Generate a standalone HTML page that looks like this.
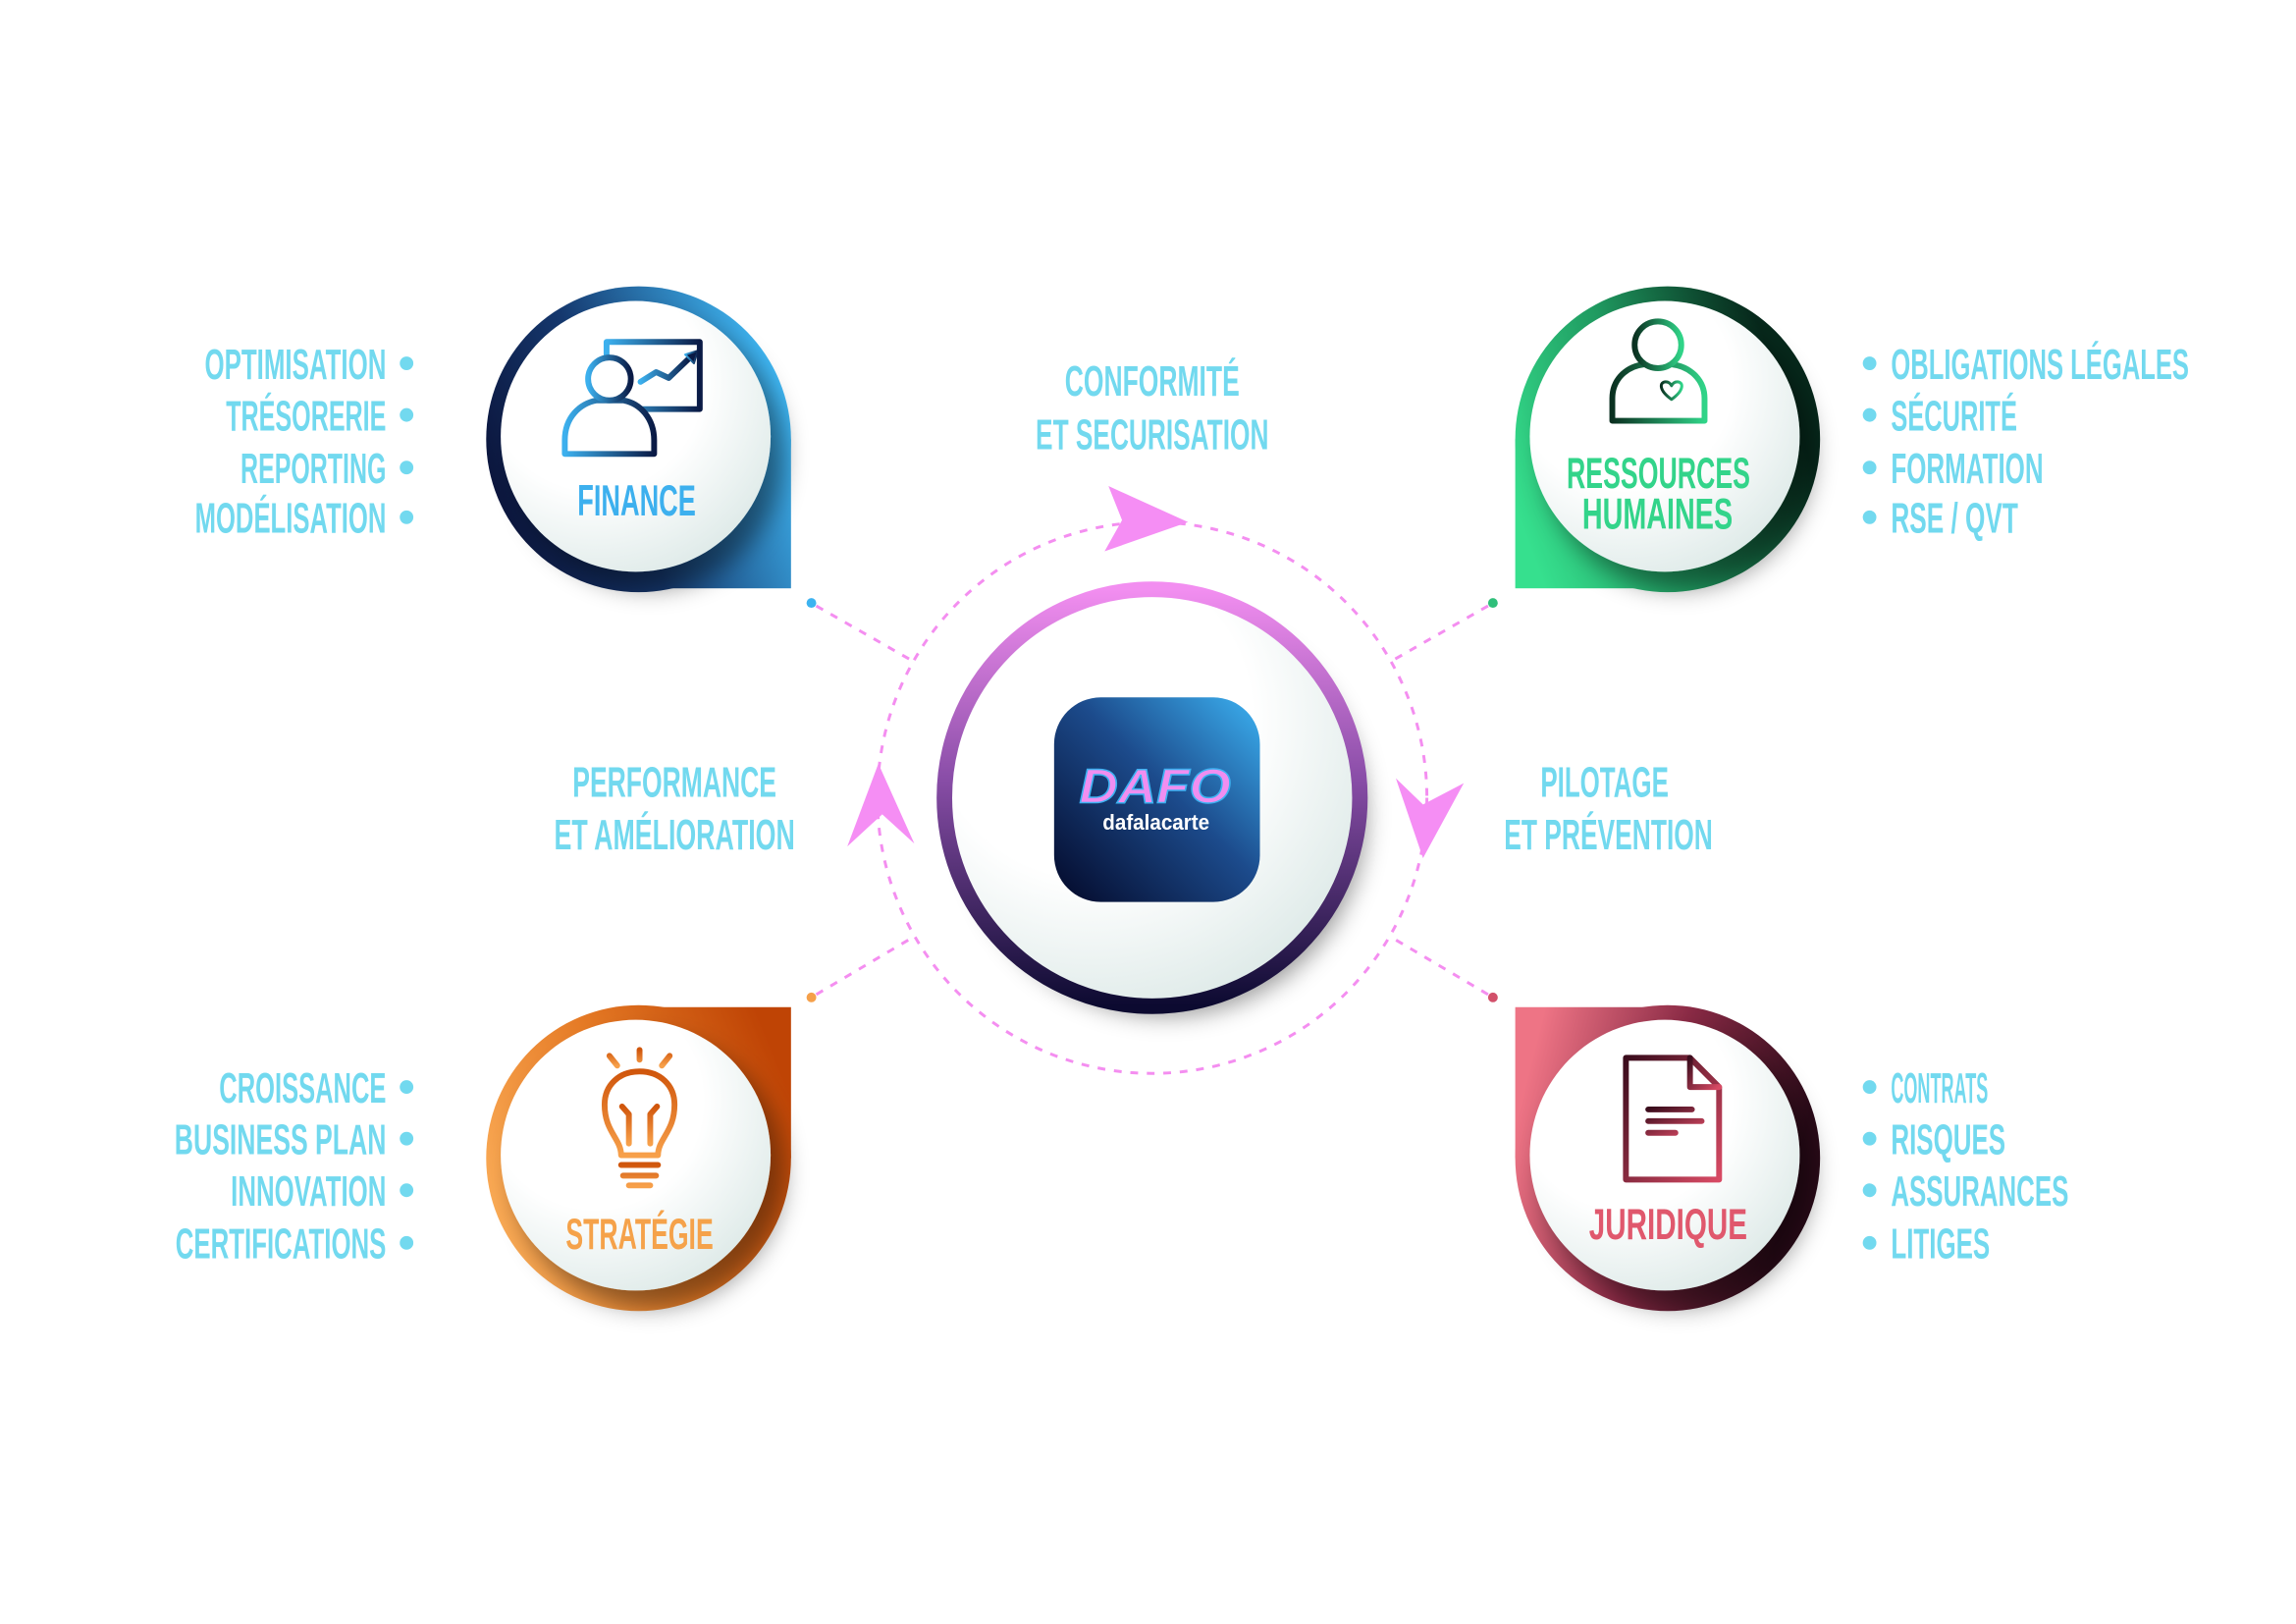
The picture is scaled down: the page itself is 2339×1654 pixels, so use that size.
<!DOCTYPE html>
<html><head><meta charset="utf-8"><style>
html,body{margin:0;padding:0;background:#fff;}
svg{display:block;}
text{font-family:"Liberation Sans Narrow","Liberation Sans",sans-serif;font-weight:bold;}
</style></head><body>
<svg width="2339" height="1654" viewBox="0 0 2339 1654" xmlns="http://www.w3.org/2000/svg">
<defs>
<linearGradient id="gF" gradientUnits="userSpaceOnUse" x1="493" y1="540" x2="807" y2="420"><stop offset="0" stop-color="#0a1035"/><stop offset="0.45" stop-color="#15386e"/><stop offset="1" stop-color="#3fb6f2"/></linearGradient>
<linearGradient id="gH" gradientUnits="userSpaceOnUse" x1="1553" y1="520" x2="1867" y2="400"><stop offset="0" stop-color="#36e08e"/><stop offset="0.45" stop-color="#1f9a60"/><stop offset="0.9" stop-color="#06281b"/></linearGradient>
<linearGradient id="gS" gradientUnits="userSpaceOnUse" x1="493" y1="1250" x2="807" y2="1120"><stop offset="0" stop-color="#fbad58"/><stop offset="0.5" stop-color="#e57a25"/><stop offset="1" stop-color="#bf4405"/></linearGradient>
<linearGradient id="gJ" gradientUnits="userSpaceOnUse" x1="1553" y1="1150" x2="1867" y2="1230"><stop offset="0" stop-color="#ee7485"/><stop offset="0.45" stop-color="#8a2a45"/><stop offset="0.9" stop-color="#2a0a18"/></linearGradient>
<linearGradient id="gC" x1="0" y1="0" x2="0" y2="1"><stop offset="0" stop-color="#f28ef0"/><stop offset="0.45" stop-color="#8a4ea8"/><stop offset="1" stop-color="#0c0a30"/></linearGradient>
<linearGradient id="gL" x1="0" y1="1" x2="1" y2="0"><stop offset="0" stop-color="#030828"/><stop offset="0.55" stop-color="#1c4b8c"/><stop offset="1" stop-color="#3cb2f2"/></linearGradient>
<radialGradient id="gW" cx="0.35" cy="0.3" r="0.8"><stop offset="0.5" stop-color="#ffffff"/><stop offset="1" stop-color="#dbe8e6"/></radialGradient>
<filter id="sh" x="-30%" y="-30%" width="170%" height="170%"><feDropShadow dx="14" dy="18" stdDeviation="12" flood-color="#000" flood-opacity="0.4"/></filter>
<linearGradient id="iF" x1="0" y1="0" x2="1" y2="0"><stop offset="0" stop-color="#3cb0ee"/><stop offset="1" stop-color="#0a1a45"/></linearGradient>
<linearGradient id="iH" x1="0" y1="0" x2="1" y2="0"><stop offset="0" stop-color="#0a3020"/><stop offset="1" stop-color="#30d488"/></linearGradient>
<linearGradient id="iS" x1="0" y1="0" x2="0" y2="1"><stop offset="0" stop-color="#d0560c"/><stop offset="1" stop-color="#f7a04a"/></linearGradient>
<linearGradient id="iJ" x1="0" y1="0" x2="1" y2="1"><stop offset="0" stop-color="#3a0c1c"/><stop offset="1" stop-color="#d84a64"/></linearGradient>
</defs>
<g transform="translate(700,500) scale(0.989,0.992) translate(-700,-500)">
<g stroke="#f48ef0" stroke-width="3" stroke-dasharray="8 9" fill="none">
<circle cx="1179" cy="815" r="283"/>
<line x1="833" y1="618" x2="933" y2="675"/>
<line x1="1525" y1="618" x2="1425" y2="675"/>
<line x1="833" y1="1017" x2="933" y2="958"/>
<line x1="1525" y1="1017" x2="1425" y2="958"/>
</g>
<circle cx="828" cy="615" r="5" fill="#3db3f0"/>
<circle cx="1530" cy="615" r="5" fill="#2fbf7a"/>
<circle cx="828" cy="1020" r="5" fill="#f5a04a"/>
<circle cx="1530" cy="1020" r="5" fill="#d2506a"/>

<g fill="#f58ef4">
<polygon points="1216,532 1134,495 1148,530 1130,562"/>
<polygon points="1458,877 1430,795 1458,822 1500,800"/>
<polygon points="897,780 865,865 901,832 934,862"/>
</g>

<circle cx="1179" cy="815" r="206" fill="url(#gW)" filter="url(#sh)"/>
<circle cx="1179" cy="815" r="214" fill="none" stroke="url(#gC)" stroke-width="16"/>
<rect x="1078" y="712" width="212" height="210" rx="48" fill="url(#gL)"/>
<text x="1104" y="820" font-size="50" font-style="italic" fill="#f08ef0" stroke="#3cb2f2" stroke-width="1.5" textLength="156" lengthAdjust="spacingAndGlyphs">DAFO</text>
<text x="1128" y="848" font-size="22" fill="#ffffff" textLength="110" lengthAdjust="spacingAndGlyphs">dafalacarte</text>

<g fill="url(#gF)"><circle cx="650" cy="447" r="157"/><rect x="650" y="447" width="157" height="153"/></g>
<circle cx="647" cy="444" r="139" fill="url(#gW)" filter="url(#sh)"/>
<g fill="#fff" stroke="url(#iF)" stroke-width="6" stroke-linejoin="round" stroke-linecap="round">
<rect x="617" y="347" width="96" height="69" fill="none"/>
<polyline points="652,388 668,378 681,384 703,363" fill="none"/>
<polygon points="698,360 711,356 707,369" fill="#0a1a45" stroke-width="2"/>
<path d="M574,462 L574,448 C574,424 590,410 607,407 L634,407 C652,410 666,426 666,448 L666,462 Z"/>
<circle cx="620" cy="385" r="22"/>
</g>
<text x="587" y="525" font-size="45" fill="#3db0ee" textLength="122" lengthAdjust="spacingAndGlyphs">FINANCE</text>

<g fill="url(#gH)"><circle cx="1710" cy="447" r="157"/><rect x="1553" y="447" width="157" height="153"/></g>
<circle cx="1707" cy="444" r="139" fill="url(#gW)" filter="url(#sh)"/>
<g fill="#fff" stroke="url(#iH)" stroke-width="6" stroke-linejoin="round">
<path d="M1653,428 L1653,405 C1653,385 1668,372 1686,370 L1714,370 C1732,372 1748,385 1748,405 L1748,428 Z"/>
<circle cx="1700" cy="350" r="24"/>
<path d="M1714,406 C1700,396 1702,388 1708,388 C1711,388 1713,390 1714,392 C1715,390 1717,388 1720,388 C1726,388 1728,396 1714,406 Z" stroke-width="3"/>
</g>
<text x="1606" y="497" font-size="45" fill="#33d48a" textLength="189" lengthAdjust="spacingAndGlyphs">RESSOURCES</text>
<text x="1622" y="539" font-size="45" fill="#33d48a" textLength="155" lengthAdjust="spacingAndGlyphs">HUMAINES</text>

<g fill="url(#gS)"><circle cx="650" cy="1185" r="157"/><rect x="650" y="1030" width="157" height="155"/></g>
<circle cx="647" cy="1182" r="139" fill="url(#gW)" filter="url(#sh)"/>
<g fill="none" stroke="url(#iS)" stroke-width="6" stroke-linecap="round" stroke-linejoin="round">
<path d="M632,1182 C632,1165 615,1158 615,1130 C615,1110 630,1096 651,1096 C672,1096 687,1110 687,1130 C687,1158 670,1165 670,1182 Z"/>
<path d="M640,1170 L640,1140 L633,1132 M662,1170 L662,1140 L669,1132"/>
<path d="M632,1192 L670,1192 M634,1203 L668,1203 M640,1213 L662,1213"/>
<path d="M651,1074 L651,1084 M620,1080 L628,1090 M682,1080 L674,1090"/>
</g>
<text x="575" y="1278" font-size="45" fill="#f5a24a" textLength="152" lengthAdjust="spacingAndGlyphs">STRATÉGIE</text>

<g fill="url(#gJ)"><circle cx="1710" cy="1185" r="157"/><rect x="1553" y="1030" width="157" height="155"/></g>
<circle cx="1707" cy="1182" r="139" fill="url(#gW)" filter="url(#sh)"/>
<g fill="none" stroke="url(#iJ)" stroke-width="6" stroke-linejoin="round" stroke-linecap="round">
<path d="M1667,1082 L1733,1082 L1763,1112 L1763,1207 L1667,1207 Z"/>
<path d="M1733,1082 L1733,1112 L1763,1112"/>
<path d="M1690,1135 L1735,1135 M1690,1147 L1745,1147 M1690,1159 L1718,1159"/>
</g>
<text x="1629" y="1268" font-size="45" fill="#e0586d" textLength="163" lengthAdjust="spacingAndGlyphs">JURIDIQUE</text>

<g font-size="44" fill="#72d9ef" text-anchor="middle">
<text x="1179" y="402" textLength="180" lengthAdjust="spacingAndGlyphs">CONFORMITÉ</text>
<text x="1179" y="457" textLength="240" lengthAdjust="spacingAndGlyphs">ET SECURISATION</text>
<text x="687" y="814" textLength="210" lengthAdjust="spacingAndGlyphs">PERFORMANCE</text>
<text x="687" y="868" textLength="248" lengthAdjust="spacingAndGlyphs">ET AMÉLIORATION</text>
<text x="1645" y="814" textLength="132" lengthAdjust="spacingAndGlyphs">PILOTAGE</text>
<text x="1649" y="868" textLength="215" lengthAdjust="spacingAndGlyphs">ET PRÉVENTION</text>
</g>

<g font-size="44" fill="#72d9ef" text-anchor="end">
<text x="390" y="385" textLength="187" lengthAdjust="spacingAndGlyphs">OPTIMISATION</text>
<text x="390" y="438" textLength="165" lengthAdjust="spacingAndGlyphs">TRÉSORERIE</text>
<text x="390" y="492" textLength="150" lengthAdjust="spacingAndGlyphs">REPORTING</text>
<text x="390" y="543" textLength="197" lengthAdjust="spacingAndGlyphs">MODÉLISATION</text>
<text x="390" y="1128" textLength="172" lengthAdjust="spacingAndGlyphs">CROISSANCE</text>
<text x="390" y="1181" textLength="218" lengthAdjust="spacingAndGlyphs">BUSINESS PLAN</text>
<text x="390" y="1234" textLength="160" lengthAdjust="spacingAndGlyphs">INNOVATION</text>
<text x="390" y="1288" textLength="217" lengthAdjust="spacingAndGlyphs">CERTIFICATIONS</text>
</g>
<g fill="#72d9ef">
<circle cx="411" cy="369" r="7"/><circle cx="411" cy="422" r="7"/><circle cx="411" cy="476" r="7"/><circle cx="411" cy="527" r="7"/>
<circle cx="411" cy="1112" r="7"/><circle cx="411" cy="1165" r="7"/><circle cx="411" cy="1218" r="7"/><circle cx="411" cy="1272" r="7"/>
<circle cx="1918" cy="369" r="7"/><circle cx="1918" cy="422" r="7"/><circle cx="1918" cy="476" r="7"/><circle cx="1918" cy="527" r="7"/>
<circle cx="1918" cy="1112" r="7"/><circle cx="1918" cy="1165" r="7"/><circle cx="1918" cy="1218" r="7"/><circle cx="1918" cy="1272" r="7"/>
</g>
<g font-size="44" fill="#72d9ef">
<text x="1940" y="385" textLength="307" lengthAdjust="spacingAndGlyphs">OBLIGATIONS LÉGALES</text>
<text x="1940" y="438" textLength="130" lengthAdjust="spacingAndGlyphs">SÉCURITÉ</text>
<text x="1940" y="492" textLength="157" lengthAdjust="spacingAndGlyphs">FORMATION</text>
<text x="1940" y="543" textLength="131" lengthAdjust="spacingAndGlyphs">RSE / QVT</text>
<text x="1940" y="1128" textLength="100" lengthAdjust="spacingAndGlyphs">CONTRATS</text>
<text x="1940" y="1181" textLength="118" lengthAdjust="spacingAndGlyphs">RISQUES</text>
<text x="1940" y="1234" textLength="183" lengthAdjust="spacingAndGlyphs">ASSURANCES</text>
<text x="1940" y="1288" textLength="102" lengthAdjust="spacingAndGlyphs">LITIGES</text>
</g>
</g>
</svg>
</body></html>
